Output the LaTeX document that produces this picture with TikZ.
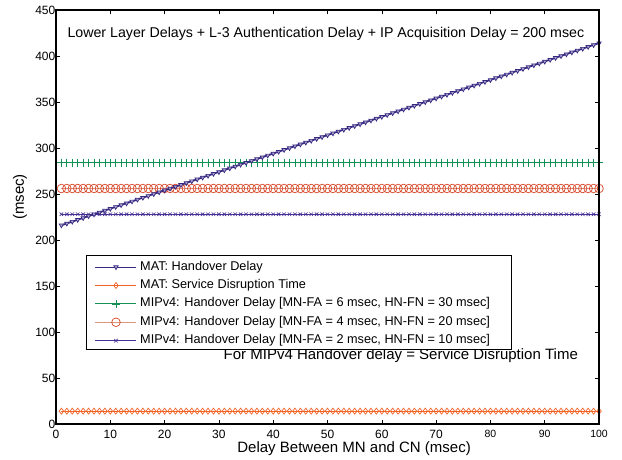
\documentclass[tikz,border=0pt]{standalone}
\usepackage{fontspec}
\setmainfont{Liberation Sans}
\usetikzlibrary{plotmarks, positioning}

\definecolor{matblue}{RGB}{55,40,130}
\definecolor{matorange}{RGB}{240,100,40}
\definecolor{mipgreen}{RGB}{20,145,85}
\definecolor{mipred}{RGB}{215,70,40}
\definecolor{mipsalmon}{RGB}{220,150,130}
\definecolor{mipblue}{RGB}{70,50,150}

\tikzset{
  matdelay/.style={matblue, line width=1.7pt, mark=triangle*, mark size=2.5pt,
    mark options={rotate=180, fill=matblue!40, line width=0.7pt}},
  matdisrupt/.style={matorange, line width=0.8pt, mark=diamond, mark size=3pt,
    mark options={line width=0.7pt}},
  mipsix/.style={mipgreen, line width=0.8pt, mark=+, mark size=4pt,
    mark options={line width=0.7pt}},
  mipfour/.style={mipsalmon, line width=1.4pt, mark=o, mark size=4.3pt,
    mark options={mipred, line width=0.7pt}},
  miptwo/.style={mipblue, line width=0.8pt, mark=x, mark size=2.5pt,
    mark options={line width=0.6pt}},
  legtext/.style={anchor=north west, inner xsep=0pt, inner ysep=3pt,
    text height=9pt, text depth=3pt, font=\fontsize{12.7}{14}\selectfont},
  bigtext/.style={font=\fontsize{15}{17}\selectfont},
}

\begin{document}
\begin{tikzpicture}[x=5.43pt, y=0.92pt, font=\fontsize{12}{14}\selectfont]
\useasboundingbox [fill=white] (-10.31,-38.04) rectangle (104.23,460.87);

% curves
\draw [mipsix]     plot [domain=1:100, samples=100] (\x, 284);
\draw [mipfour]    plot [domain=1:100, samples=100] (\x, 256);
\draw [miptwo]     plot [domain=1:100, samples=100] (\x, 228);
\draw [matdisrupt] plot [domain=1:100, samples=100] (\x, 14);
\draw [matdelay]   plot [domain=1:100, samples=100] (\x, {214+2*\x});

% axes and ticks
\draw [line width=1.2pt] (0,0) rectangle (100,450);
\foreach \x in {0,10,...,100} {
  \draw [line width=0.6pt] (\x,0)   -- (\x,4.35);
  \draw [line width=0.6pt] (\x,450) -- (\x,445.65);
}
\foreach \x in {0,10,...,70}
  \node (xt\x) at (\x,-11) {\x};
\foreach \x in {80,90,100}
  \node [font=\fontsize{10.5}{12}\selectfont] (xt\x) at (\x,-11) {\x};
\foreach \y in {0,50,...,450} {
  \draw [line width=0.6pt] (0,\y)   -- (0.74,\y);
  \draw [line width=0.6pt] (100,\y) -- (99.26,\y);
  \node [anchor=east, inner sep=0.5pt] (yt\y) at (0,\y) {\y};
}
\node [bigtext] (xlabel) at (54.9,-27.2) {Delay Between MN and CN (msec)};
\node [bigtext, rotate=90] (ylabel) at (-6.63,246.7) {(msec)};

% annotations
\node [font=\fontsize{14.2}{16}\selectfont] (title) at (49.7,424)
  {Lower Layer Delays + L-3 Authentication Delay + IP Acquisition Delay = 200 msec};
\node [bigtext] (note) at (63.5,73.9)
  {For MIPv4 Handover delay = Service Disruption Time};

% legend
\draw [fill=white, line width=0.8pt] (5.65,81.2) rectangle (83.8,183.7);
\node [legtext] (leg1) at (15.47,180.6) {MAT: Handover Delay};
\node [legtext] (leg2) at (leg1.south west) {MAT: Service Disruption Time};
\node [legtext] (leg3) at (leg2.south west) {MIPv4: Handover Delay [MN-FA = 6 msec, HN-FN = 30 msec]};
\node [legtext] (leg4) at (leg3.south west) {MIPv4: Handover Delay [MN-FA = 4 msec, HN-FN = 20 msec]};
\node [legtext] (leg5) at (leg4.south west) {MIPv4: Handover Delay [MN-FA = 2 msec, HN-FN = 10 msec]};
\foreach \s/\n in {matdelay/leg1, matdisrupt/leg2, mipsix/leg3, mipfour/leg4, miptwo/leg5}
  \draw [\s, line width=0.8pt, mark indices={2}] plot coordinates
    {([xshift=-45pt]\n.west) ([xshift=-24pt]\n.west) ([xshift=-4pt]\n.west)};
\end{tikzpicture}
\end{document}
